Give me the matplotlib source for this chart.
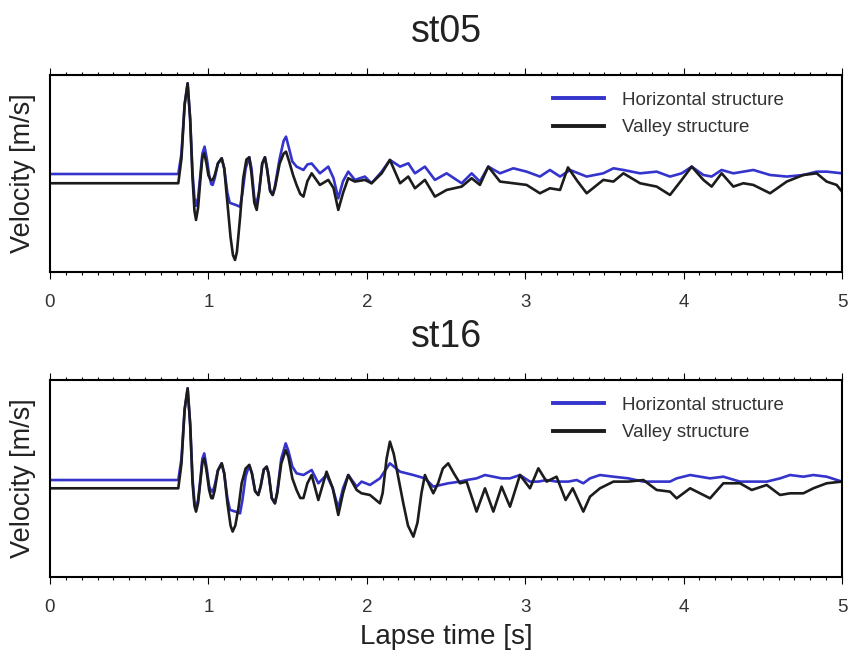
import matplotlib

matplotlib.use("Agg")

import matplotlib.pyplot as plt
from matplotlib.ticker import MultipleLocator

plt.rcParams["font.family"] = ["Liberation Sans", "DejaVu Sans"]

BLUE = "#3434cc"
BLACK = "#1c1c1c"

# st05 ------------------------------------------------------------------
t_h05 = [0, 0.81, 0.83, 0.85, 0.869, 0.885, 0.90, 0.912, 0.922, 0.935, 0.95,
         0.962, 0.976, 0.99, 1.005, 1.018, 1.027, 1.04, 1.06, 1.084, 1.10,
         1.12, 1.135, 1.17, 1.2, 1.215, 1.235, 1.258, 1.272, 1.29, 1.305,
         1.32, 1.34, 1.357, 1.37, 1.39, 1.406, 1.42, 1.45, 1.475, 1.49,
         1.505, 1.53, 1.557, 1.60, 1.625, 1.652, 1.704, 1.757, 1.79, 1.82,
         1.85, 1.883, 1.925, 1.988, 2.03, 2.094, 2.146, 2.21, 2.262, 2.304,
         2.367, 2.43, 2.504, 2.599, 2.662, 2.714, 2.767, 2.841, 2.925, 3.009,
         3.093, 3.156, 3.22, 3.283, 3.388, 3.493, 3.557, 3.62, 3.725, 3.83,
         3.914, 3.988, 4.051, 4.125, 4.177, 4.24, 4.314, 4.377, 4.44, 4.546,
         4.651, 4.756, 4.84, 4.903, 5.0]
v_h05 = [-0.007, -0.007, 0.20, 0.70, 0.915, 0.55, 0.0, -0.25, -0.33, -0.25,
         0.0, 0.20, 0.271, 0.15, -0.02, -0.11, -0.118, -0.05, 0.10, 0.153,
         0.05, -0.20, -0.30, -0.32, -0.34, -0.20, 0.05, 0.163, 0.05, -0.25,
         -0.31, -0.18, 0.10, 0.163, 0.05, -0.18, -0.22, -0.13, 0.15, 0.33,
         0.373, 0.28, 0.12, 0.068, 0.034, 0.09, 0.10, 0.0, 0.068, -0.05,
         -0.254, -0.08, 0.017, -0.067, -0.033, -0.101, 0.017, 0.136, 0.068,
         0.102, 0.0, 0.068, -0.067, 0.0, -0.101, 0.0, -0.084, 0.068, 0.0,
         0.051, 0.017, -0.033, 0.034, -0.033, 0.034, -0.033, 0.0, 0.051,
         0.034, 0.0, 0.017, -0.033, 0.0, 0.068, -0.017, -0.033, 0.034, 0.0,
         0.017, 0.034, -0.017, -0.033, -0.017, 0.017, 0.017, 0.0]

t_v05 = [0, 0.81, 0.83, 0.85, 0.869, 0.885, 0.90, 0.912, 0.922, 0.935, 0.95,
         0.962, 0.974, 0.988, 1.0, 1.015, 1.027, 1.04, 1.06, 1.084, 1.10,
         1.12, 1.14, 1.155, 1.168, 1.18, 1.2, 1.22, 1.24, 1.258, 1.272, 1.29,
         1.305, 1.32, 1.34, 1.357, 1.37, 1.39, 1.406, 1.42, 1.45, 1.475,
         1.49, 1.51, 1.535, 1.557, 1.58, 1.60, 1.625, 1.652, 1.704, 1.757,
         1.79, 1.82, 1.85, 1.883, 1.925, 1.988, 2.03, 2.094, 2.146, 2.21,
         2.262, 2.304, 2.367, 2.43, 2.504, 2.599, 2.662, 2.714, 2.767, 2.841,
         2.925, 3.009, 3.093, 3.156, 3.22, 3.27, 3.33, 3.388, 3.493, 3.557,
         3.62, 3.725, 3.83, 3.914, 3.988, 4.051, 4.125, 4.177, 4.24, 4.314,
         4.377, 4.44, 4.546, 4.651, 4.756, 4.84, 4.903, 4.966, 5.0]
v_v05 = [-0.101, -0.101, 0.15, 0.70, 0.915, 0.55, -0.05, -0.38, -0.474,
         -0.35, -0.05, 0.16, 0.203, 0.10, -0.02, -0.07, -0.067, -0.02, 0.10,
         0.153, 0.05, -0.30, -0.65, -0.83, -0.881, -0.80, -0.45, -0.05, 0.14,
         0.163, 0.0, -0.30, -0.372, -0.20, 0.10, 0.163, 0.05, -0.18, -0.22,
         -0.15, 0.10, 0.20, 0.22, 0.12, -0.02, -0.12, -0.21, -0.237, -0.08,
         0.0, -0.118, -0.067, -0.15, -0.372, -0.20, -0.05, -0.084, -0.067,
         -0.101, 0.0, 0.136, -0.101, -0.033, -0.152, -0.067, -0.237, -0.169,
         -0.135, -0.05, -0.118, 0.068, -0.084, -0.101, -0.118, -0.203,
         -0.152, -0.169, 0.06, -0.08, -0.203, -0.067, -0.084, 0.0, -0.101,
         -0.135, -0.22, -0.067, 0.068, -0.067, -0.135, 0.0, -0.135, -0.101,
         -0.118, -0.203, -0.084, -0.017, 0.0, -0.084, -0.118, -0.186]

# st16 ------------------------------------------------------------------
t_h16 = [0, 0.81, 0.83, 0.85, 0.869, 0.885, 0.90, 0.912, 0.922, 0.935, 0.95,
         0.962, 0.974, 0.988, 1.005, 1.018, 1.027, 1.04, 1.06, 1.084, 1.10,
         1.12, 1.136, 1.17, 1.2, 1.215, 1.235, 1.258, 1.275, 1.295, 1.315,
         1.33, 1.35, 1.368, 1.38, 1.40, 1.42, 1.435, 1.46, 1.488, 1.505,
         1.53, 1.557, 1.60, 1.652, 1.694, 1.746, 1.785, 1.82, 1.85, 1.883,
         1.936, 1.967, 2.02, 2.083, 2.146, 2.21, 2.294, 2.367, 2.42, 2.514,
         2.588, 2.63, 2.693, 2.746, 2.799, 2.851, 2.904, 2.967, 3.03, 3.083,
         3.135, 3.198, 3.272, 3.325, 3.367, 3.409, 3.472, 3.557, 3.651,
         3.746, 3.83, 3.914, 3.956, 4.041, 4.167, 4.251, 4.356, 4.43, 4.525,
         4.609, 4.672, 4.756, 4.819, 4.903, 5.0]
v_h16 = [-0.017, -0.017, 0.20, 0.70, 0.915, 0.55, 0.0, -0.24, -0.304, -0.22,
         0.0, 0.20, 0.254, 0.12, -0.08, -0.13, -0.135, -0.07, 0.08, 0.153,
         0.05, -0.20, -0.32, -0.338, -0.355, -0.22, 0.02, 0.136, 0.05, -0.13,
         -0.169, -0.08, 0.09, 0.119, 0.05, -0.20, -0.254, -0.13, 0.20, 0.356,
         0.28, 0.12, 0.051, 0.034, 0.085, -0.05, 0.034, -0.10, -0.304, -0.10,
         0.034, -0.084, -0.033, -0.067, 0.0, 0.153, 0.068, 0.034, 0.0, -0.084,
         -0.05, -0.033, -0.017, 0.0, 0.034, 0.017, 0.0, 0.0, 0.034, -0.033,
         -0.033, -0.017, -0.033, -0.033, -0.017, -0.05, 0.0, 0.034, 0.017,
         0.0, -0.033, -0.033, -0.033, 0.0, 0.034, 0.0, 0.017, -0.033, -0.033,
         -0.033, 0.0, 0.034, 0.017, 0.034, 0.017, -0.033]

t_v16 = [0, 0.81, 0.83, 0.85, 0.869, 0.885, 0.90, 0.912, 0.922, 0.935, 0.95,
         0.962, 0.974, 0.988, 1.005, 1.018, 1.027, 1.04, 1.06, 1.084, 1.10,
         1.12, 1.14, 1.153, 1.17, 1.19, 1.21, 1.235, 1.258, 1.275, 1.295,
         1.315, 1.33, 1.35, 1.368, 1.38, 1.40, 1.42, 1.435, 1.46, 1.488,
         1.505, 1.53, 1.557, 1.58, 1.60, 1.625, 1.652, 1.694, 1.746, 1.785,
         1.82, 1.85, 1.883, 1.936, 1.967, 2.02, 2.083, 2.10, 2.125, 2.146,
         2.17, 2.20, 2.23, 2.26, 2.294, 2.32, 2.345, 2.367, 2.39, 2.42, 2.45,
         2.48, 2.514, 2.55, 2.588, 2.63, 2.693, 2.746, 2.799, 2.851, 2.904,
         2.967, 3.03, 3.083, 3.135, 3.198, 3.255, 3.30, 3.367, 3.409, 3.472,
         3.557, 3.651, 3.746, 3.83, 3.914, 3.956, 4.041, 4.167, 4.251, 4.356,
         4.43, 4.525, 4.609, 4.672, 4.756, 4.819, 4.903, 5.0]
v_v16 = [-0.101, -0.101, 0.15, 0.70, 0.915, 0.55, -0.05, -0.28, -0.338,
         -0.25, -0.02, 0.16, 0.203, 0.08, -0.12, -0.20, -0.203, -0.12, 0.08,
         0.153, 0.05, -0.25, -0.48, -0.541, -0.48, -0.30, -0.05, 0.10, 0.136,
         0.05, -0.13, -0.169, -0.08, 0.09, 0.119, 0.05, -0.20, -0.254, -0.15,
         0.15, 0.288, 0.22, 0.0, -0.12, -0.20, -0.20, -0.05, 0.034, -0.22,
         0.068, -0.10, -0.372, -0.15, 0.034, -0.118, -0.152, -0.169, -0.254,
         -0.15, 0.20, 0.373, 0.25, 0.0, -0.25, -0.48, -0.593, -0.45, -0.15,
         0.034, -0.05, -0.152, -0.05, 0.10, 0.153, 0.05, -0.05, -0.033,
         -0.338, -0.101, -0.338, -0.084, -0.288, 0.034, -0.101, 0.102, -0.033,
         0.017, -0.22, -0.101, -0.338, -0.186, -0.101, -0.033, -0.033, -0.017,
         -0.118, -0.135, -0.203, -0.101, -0.203, -0.05, -0.05, -0.118, -0.067,
         -0.169, -0.152, -0.152, -0.101, -0.05, -0.033]

panels = [
    ("st05", t_h05, v_h05, t_v05, v_v05),
    ("st16", t_h16, v_h16, t_v16, v_v16),
]

fig = plt.figure(figsize=(8.5, 6.57), dpi=100)
boxes = [[0.0588, 0.5865, 0.9318, 0.2994], [0.0588, 0.1222, 0.9318, 0.2994]]

for box, (name, th, vh, tv, vv) in zip(boxes, panels):
    ax = fig.add_axes(box)
    ax.plot(th, vh, color=BLUE, lw=1.9, solid_joinstyle="round",
            label="Horizontal structure")
    ax.plot(tv, vv, color=BLACK, lw=1.9, solid_joinstyle="round",
            label="Valley structure")
    ax.set_xlim(0, 5)
    ax.set_ylim(-1, 1)
    ax.xaxis.set_major_locator(MultipleLocator(1))
    ax.xaxis.set_minor_locator(MultipleLocator(0.1))
    ax.tick_params(which="both", direction="out", top=True, bottom=True,
                   left=False, right=False, labelleft=False, width=0.8,
                   labelsize=13.5, pad=11, labelcolor="#333333")
    ax.tick_params(which="major", length=5)
    ax.tick_params(which="minor", length=2.5)
    for sp in ax.spines.values():
        sp.set_linewidth(1.5)
    ax.set_ylabel("Velocity [m/s]", fontsize=19.5, labelpad=10,
                  color="#222222")
    ax.set_title(name, fontsize=27, pad=24, color="#222222")
    leg = ax.legend(loc="upper left", bbox_to_anchor=(0.635, 0.915),
                    frameon=False, fontsize=13.5, borderpad=0,
                    borderaxespad=0, handlelength=2.7, handletextpad=1.0,
                    labelspacing=0.55)
    for ln in leg.get_lines():
        ln.set_linewidth(2.8)
    for tx in leg.get_texts():
        tx.set_color("#333333")

ax.set_xlabel("Lapse time [s]", fontsize=20, labelpad=6, color="#222222")

fig.savefig("out.png", dpi=100)
